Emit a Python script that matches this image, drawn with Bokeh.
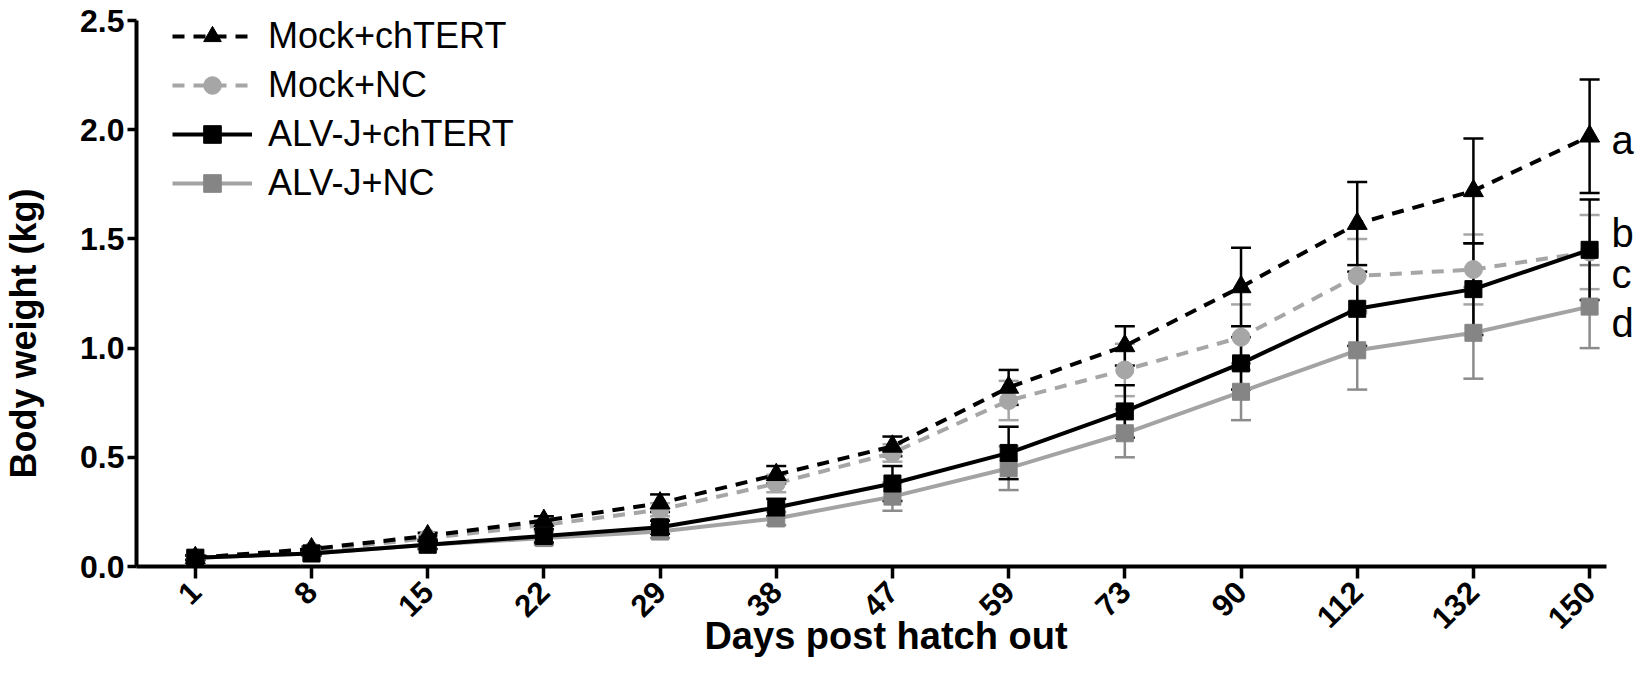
import math
from bokeh.plotting import figure
from bokeh.models import (ColumnDataSource, Whisker, TeeHead, FixedTicker, Legend,
                          LegendItem, Range1d)
from bokeh.embed import file_html
from bokeh.resources import INLINE
from bokeh.core.properties import value

# ---------------- data ----------------
days = ["1", "8", "15", "22", "29", "38", "47", "59", "73", "90", "112", "132", "150"]

mock_tert = [0.04, 0.08, 0.14, 0.21, 0.29, 0.42, 0.55, 0.82, 1.01, 1.28, 1.57, 1.72, 1.97]
mock_tert_err = [0.01, 0.01, 0.015, 0.02, 0.04, 0.04, 0.045, 0.08, 0.09, 0.18, 0.19, 0.24, 0.26]

mock_nc = [0.04, 0.07, 0.13, 0.19, 0.26, 0.38, 0.52, 0.76, 0.90, 1.05, 1.33, 1.36, 1.44]
mock_nc_err = [0.01, 0.01, 0.015, 0.02, 0.03, 0.04, 0.04, 0.09, 0.12, 0.15, 0.17, 0.16, 0.17]

alvj_tert = [0.04, 0.06, 0.10, 0.14, 0.18, 0.27, 0.38, 0.52, 0.71, 0.93, 1.18, 1.27, 1.45]
alvj_tert_err = [0.01, 0.01, 0.02, 0.03, 0.03, 0.04, 0.08, 0.12, 0.12, 0.12, 0.17, 0.21, 0.23]

alvj_nc = [0.04, 0.06, 0.10, 0.13, 0.16, 0.22, 0.32, 0.45, 0.61, 0.80, 0.99, 1.07, 1.19]
alvj_nc_err = [0.01, 0.01, 0.02, 0.03, 0.03, 0.03, 0.065, 0.10, 0.11, 0.13, 0.18, 0.21, 0.19]

sig_letters = ["a", "b", "c", "d"]
sig_y = [1.951, 1.527, 1.338, 1.114]

y_ticks = [0.0, 0.5, 1.0, 1.5, 2.0, 2.5]

# ---------------- figure ----------------
FONT = "Liberation Sans"
xs = list(range(len(days)))
last = [xs[-1]] * len(sig_letters)

p = figure(width=1635, height=670, output_backend="svg", toolbar_location=None,
           x_range=Range1d(-0.506, 12.395), y_range=Range1d(0, 2.5),
           min_border_left=132, min_border_right=0, min_border_top=20,
           min_border_bottom=104)
p.outline_line_color = None
p.grid.visible = False
p.background_fill_color = "white"

for ax in (p.xaxis[0], p.yaxis[0]):
    ax.axis_line_width = 4
    ax.axis_line_color = "black"
    ax.major_tick_line_width = 3.5
    ax.major_tick_line_color = "black"
    ax.minor_tick_line_color = None
    ax.major_tick_in = 0
    ax.major_label_text_font = FONT
    ax.major_label_text_font_style = "bold"
    ax.major_label_text_color = "black"
    ax.axis_label_text_font = FONT
    ax.axis_label_text_font_style = "bold"
    ax.axis_label_text_color = "black"

p.xaxis.bounds = (-0.506, 12.146)
p.xaxis.ticker = FixedTicker(ticks=xs)
p.xaxis.major_label_overrides = {i: d for i, d in enumerate(days)}
p.xaxis.major_label_orientation = math.pi / 4
p.xaxis.major_label_text_font_size = "31px"
p.xaxis.major_tick_out = 12
p.xaxis.major_label_standoff = 8
p.xaxis.axis_label = "Days post hatch out"
p.xaxis.axis_label_text_font_size = "38px"
p.xaxis.axis_label_standoff = -27

p.yaxis.ticker = FixedTicker(ticks=y_ticks)
p.yaxis.major_label_overrides = {t: f"{t:.1f}" for t in y_ticks}
p.yaxis.major_label_text_font_size = "32px"
p.yaxis.major_tick_out = 9
p.yaxis.major_label_standoff = 3
p.yaxis.axis_label = "Body weight (kg)" + "\u00a0" * 8
p.yaxis.axis_label_text_font_size = "36px"
p.yaxis.axis_label_standoff = 33

series = [
    # name, values, errors, line color, marker color, dash, marker, size, err color
    ("ALV-J+NC", alvj_nc, alvj_nc_err, "#a3a3a3", "#858585", "solid", "square", 17, "#8c8c8c"),
    ("Mock+NC", mock_nc, mock_nc_err, "#a6a6a6", "#a6a6a6", "12 9", "circle", 18, "#a6a6a6"),
    ("ALV-J+chTERT", alvj_tert, alvj_tert_err, "black", "black", "solid", "square", 17, "black"),
    ("Mock+chTERT", mock_tert, mock_tert_err, "black", "black", "12 9", "triangle", 20, "black"),
]

items = {}
for name, vals, errs, lc, mc, dash, mk, sz, ec in series:
    src = ColumnDataSource(dict(x=xs, y=vals,
                                upper=[v + e for v, e in zip(vals, errs)],
                                lower=[v - e for v, e in zip(vals, errs)]))
    w = Whisker(source=src, base="x", upper="upper", lower="lower",
                line_color=ec, line_width=2.5,
                upper_head=TeeHead(size=20, line_color=ec, line_width=2.5),
                lower_head=TeeHead(size=20, line_color=ec, line_width=2.5))
    p.add_layout(w)
    lr = p.line("x", "y", source=src, line_color=lc, line_width=4, line_dash=dash)
    sr = p.scatter("x", "y", source=src, marker=mk, size=sz, fill_color=mc,
                   line_color=mc, line_width=1)
    items[name] = [lr, sr]

order = ["Mock+chTERT", "Mock+NC", "ALV-J+chTERT", "ALV-J+NC"]
legend = Legend(items=[LegendItem(label=n, renderers=items[n]) for n in order],
                location=(36, 361), orientation="vertical",
                glyph_width=80, glyph_height=44, label_height=44,
                label_standoff=16, spacing=5, padding=0, margin=0,
                label_text_font=FONT, label_text_font_size="36px",
                label_text_color="black",
                border_line_alpha=0, background_fill_alpha=0)
p.add_layout(legend)

p.text(x=last, y=sig_y, text=sig_letters, x_offset=22,
       text_font=value(FONT), text_font_size="40px",
       text_baseline="alphabetic", text_align="left", text_color="black")

open("out.html", "w").write(file_html(p, INLINE))
